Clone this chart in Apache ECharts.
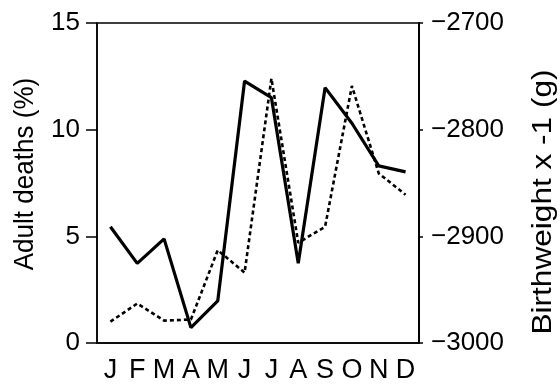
<!DOCTYPE html>
<html>
<head>
<meta charset="utf-8">
<script src="https://cdn.jsdelivr.net/npm/echarts@6/dist/echarts.min.js"></script>
<style>
html,body{margin:0;padding:0;background:#fff;}
#c{width:560px;height:384px;}
</style>
</head>
<body>
<div id="c"></div>
<script>
var months = ['J','F','M','A','M','J','J','A','S','O','N','D'];
var adultDeaths = [5.45, 3.73, 4.88, 0.72, 1.97, 12.28, 11.5, 3.74, 11.97, 10.3, 8.3, 8.02];
var birthweightNeg = [-2980, -2963, -2979, -2978, -2913, -2934, -2752, -2906, -2891, -2759, -2841, -2861];
var leftTicks = [0, 5, 10, 15];
var rightTicks = [-3000, -2900, -2800, -2700];
var leftName = 'Adult deaths (%)';
var rightName = 'Birthweight x -1 (g)';

var FONT = '"Liberation Sans", Arial, Helvetica, sans-serif';
var chart = echarts.init(document.getElementById('c'), null, {renderer: 'canvas'});
chart.setOption({
  animation: false,
  backgroundColor: '#fff',
  grid: {left: 97, right: 141, top: 23, bottom: 41, show: true, borderColor: '#000', borderWidth: 1.5, backgroundColor: 'transparent'},
  xAxis: {
    type: 'category',
    data: months,
    boundaryGap: true,
    axisLine: {lineStyle: {color: '#000', width: 1.5}},
    axisTick: {alignWithLabel: true, length: 7, lineStyle: {color: '#000', width: 1.5}},
    axisLabel: {color: '#000', fontSize: 27, fontFamily: FONT, margin: 14, interval: 0}
  },
  yAxis: [{
    type: 'value',
    min: leftTicks[0], max: leftTicks[leftTicks.length - 1], interval: 5,
    position: 'left',
    splitLine: {show: false},
    axisLine: {show: true, lineStyle: {color: '#000', width: 1.5}},
    axisTick: {show: true, length: 11, lineStyle: {color: '#000', width: 1.5}},
    axisLabel: {color: '#000', fontSize: 26, fontFamily: FONT, margin: 17}
  }, {
    type: 'value',
    min: rightTicks[0], max: rightTicks[rightTicks.length - 1], interval: 100,
    position: 'right',
    splitLine: {show: false},
    axisLine: {show: true, lineStyle: {color: '#000', width: 2}},
    axisTick: {show: true, length: 4, lineStyle: {color: '#000', width: 1.5}},
    axisLabel: {color: '#000', fontSize: 26, fontFamily: FONT, margin: 12,
      formatter: function (v) { return String(v).replace('-', '\u2212'); }}
  }],
  graphic: [{
    type: 'text', x: 25, y: 174, rotation: Math.PI / 2, scaleX: 0.93,
    style: {text: leftName, fontSize: 28, fontFamily: FONT, fill: '#000', align: 'center', verticalAlign: 'middle'}
  }, {
    type: 'text', x: 544, y: 202, rotation: Math.PI / 2, scaleX: 1.17,
    style: {text: rightName, fontSize: 27, fontFamily: FONT, fill: '#000', align: 'center', verticalAlign: 'middle'}
  }],
  series: [{
    type: 'line', yAxisIndex: 0, data: adultDeaths, showSymbol: false, symbol: 'none',
    lineStyle: {color: '#000', width: 3.2, type: 'solid'}, z: 3
  }, {
    type: 'line', yAxisIndex: 1, data: birthweightNeg, showSymbol: false, symbol: 'none',
    lineStyle: {color: '#000', width: 2.6, type: [4, 3]}, z: 2
  }]
});
</script>
</body>
</html>
